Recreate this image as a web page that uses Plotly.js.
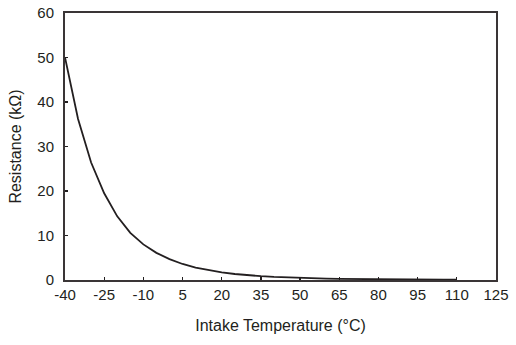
<!DOCTYPE html>
<html><head><meta charset="utf-8">
<script src="https://cdn.plot.ly/plotly-3.0.1.min.js"></script>
<style>html,body{margin:0;padding:0;background:#fff}#chart{width:516px;height:345px}</style>
</head><body><div id="chart"></div>
<script>
const temperatureC = [-40,-35,-30,-25,-20,-15,-10,-5,0,5,10,15,20,25,30,35,40,45,50,55,60,65,70,75,80,85,90,95,100,105,110];
const resistanceK = [50,36.2,26.4,19.5,14.3,10.6,8.0,6.1,4.7,3.6,2.8,2.2,1.7,1.35,1.07,0.86,0.69,0.56,0.45,0.37,0.30,0.25,0.21,0.17,0.14,0.12,0.10,0.085,0.072,0.062,0.053];
const xTicks = [-40,-25,-10,5,20,35,50,65,80,95,110,125];
const yTicks = [0,10,20,30,40,50,60];

const font = {family:'"Liberation Sans", Arial, sans-serif', size:15, color:'#231f20'};
Plotly.newPlot('chart', [{
  x: temperatureC, y: resistanceK, type:'scatter', mode:'lines',
  line:{color:'#231f20', width:1.8}, hoverinfo:'skip'
}], {
  width:516, height:345,
  margin:{l:65, r:20, t:13, b:65},
  paper_bgcolor:'#fff', plot_bgcolor:'#fff',
  showlegend:false, font: font,
  xaxis:{range:[-40,125], tickvals:xTicks, ticktext:xTicks.map(String), ticks:'inside', ticklen:3, tickcolor:'#231f20', tickwidth:1.2,
    showline:true, mirror:true, linecolor:'#3a3536', linewidth:2, showgrid:false, zeroline:false,
    tickfont:{size:15}, title:{text:'Intake Temperature (°C)', font:{size:16}, standoff:18}},
  yaxis:{range:[0,60], tickvals:yTicks, ticks:'inside', ticklen:3, tickcolor:'#231f20', tickwidth:1.2,
    showline:true, mirror:true, linecolor:'#3a3536', linewidth:2, showgrid:false, zeroline:false,
    ticklabelstandoff:6,
    tickfont:{size:15}, title:{text:'Resistance (kΩ)', font:{size:16}, standoff:12}}
}, {staticPlot:true, displayModeBar:false});
</script></body></html>
